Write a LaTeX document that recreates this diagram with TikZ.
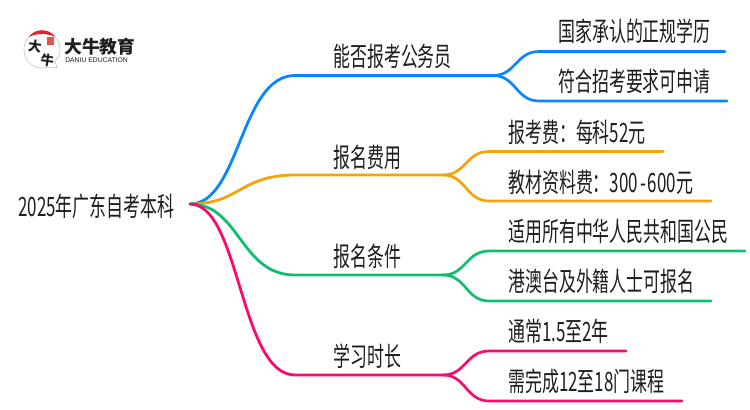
\documentclass[tikz,border=0pt]{standalone}
\usepackage{fontspec}
\setmainfont{Noto Sans CJK SC}
\setsansfont{Liberation Sans}
\newfontfamily\cnnarrow[FakeStretch=0.635]{Noto Sans CJK SC}
\definecolor{cblue}{HTML}{0A84FF}
\definecolor{corange}{HTML}{F5A30A}
\definecolor{cgreen}{HTML}{0FBF6F}
\definecolor{cpink}{HTML}{FA0A6E}
\definecolor{cink}{HTML}{1E1E1E}
\definecolor{cred}{HTML}{D92B2B}
\tikzset{
 px/.style={x=0.75pt,y=-0.75pt},
 lab/.style={inner sep=0pt,anchor=west,text=cink,font=\cnnarrow\fontsize{20pt}{22pt}\selectfont},
 leaf/.style={lab},
 branch/.style={line width=2.1pt,line cap=round},
 twig/.style={line width=2pt,line cap=round},
 seal/.style={inner sep=0pt,text=cink,font=\bfseries\fontsize{10pt}{11pt}\selectfont},
}
\begin{document}
\begin{tikzpicture}[px]
\useasboundingbox (0,0) rectangle (750,410);
\fill[white] (0,0) rectangle (750,410);
% logo
\draw[gray!45,line width=.5pt,fill=white] (57,68) .. controls (52,66) and (47,68) .. (42,68) .. controls (32,68) and (24,60) .. (24,49.5) .. controls (24,39) and (32,31) .. (42,31) .. controls (52,31) and (60,39) .. (60,49.5) .. controls (60,54) and (58,58) .. (55,61) -- cycle;
\fill[cred] (29,37) .. controls (34,28) and (50,28) .. (55,37) .. controls (47,33) and (37,33) .. (29,37) -- cycle;
\fill[cred!80] (47,37) rectangle (54,45);
\node[seal,rotate=-8] (lg1) at (35,46) {大};
\node[seal,rotate=-8] (lg2) at (47.5,60) {牛};
\node[inner sep=0pt,anchor=west,text=cink,font=\bfseries\fontsize{13.3pt}{14pt}\selectfont] (lg3) at (64,47) {大牛教育};
\node[inner sep=0pt,anchor=west,text=cink,font=\sffamily\fontsize{5.1pt}{6pt}\selectfont] (lg4) at (65,60.5) {DANIU EDUCATION};
% text
\node[lab] (root) at (18,206) {2025年广东自考本科};
\coordinate (hub) at (190,204);
\node[lab] (a) at (333,56) {能否报考公务员};
\node[lab] (b) at (333,157) {报名费用};
\node[lab] (c) at (333,256) {报名条件};
\node[lab] (d) at (333,356) {学习时长};
\node[leaf] (a1) at (558,31) {国家承认的正规学历};
\node[leaf] (a2) at (558,81) {符合招考要求可申请};
\node[leaf] (b1) at (508,132) {报考费：每科52元};
\node[leaf] (b2) at (508,182) {教材资料费：300\kern1.5pt-\kern1.5pt600元};
\node[leaf] (c1) at (508,231) {适用所有中华人民共和国公民};
\node[leaf] (c2) at (508,281) {港澳台及外籍人士可报名};
\node[leaf] (d1) at (508,331) {通常1.5至2年};
\node[leaf] (d2) at (508,381) {需完成12至18门课程};
% junctions and ends
\coordinate (ja) at (493,75.5);
\coordinate (jb) at (443,175);
\coordinate (jc) at (443,275);
\coordinate (jd) at (443,375);
\coordinate (as) at (295,75.5);
\coordinate (bs) at (295,175);
\coordinate (cs) at (295,275);
\coordinate (ds) at (295,375);
\coordinate (a1s) at (539,51.5);\coordinate (a1e) at (725,51.5);
\coordinate (a2s) at (539,101);\coordinate (a2e) at (727,101);
\coordinate (b1s) at (489,151.5);\coordinate (b1e) at (663,151.5);
\coordinate (b2s) at (489,201);\coordinate (b2e) at (711,201);
\coordinate (c1s) at (489,251);\coordinate (c1e) at (745,251);
\coordinate (c2s) at (489,301);\coordinate (c2e) at (711,301);
\coordinate (d1s) at (489,351);\coordinate (d1e) at (626,351);
\coordinate (d2s) at (489,401);\coordinate (d2e) at (682,401);
% connectors
\draw[branch,cblue] (hub) .. controls (240,204) and (240,75.5) .. (as) -- (ja);
\draw[twig,cblue] (ja) .. controls (516,75.5) and (516,51.5) .. (a1s) -- (a1e);
\draw[twig,cblue] (ja) .. controls (516,75.5) and (516,101) .. (a2s) -- (a2e);
\draw[branch,corange] (hub) .. controls (240,204) and (240,175) .. (bs) -- (jb);
\draw[twig,corange] (jb) .. controls (466,175) and (466,151.5) .. (b1s) -- (b1e);
\draw[twig,corange] (jb) .. controls (466,175) and (466,201) .. (b2s) -- (b2e);
\draw[branch,cgreen] (hub) .. controls (240,204) and (240,275) .. (cs) -- (jc);
\draw[twig,cgreen] (jc) .. controls (466,275) and (466,251) .. (c1s) -- (c1e);
\draw[twig,cgreen] (jc) .. controls (466,275) and (466,301) .. (c2s) -- (c2e);
\draw[branch,cpink] (hub) .. controls (240,204) and (240,375) .. (ds) -- (jd);
\draw[twig,cpink] (jd) .. controls (466,375) and (466,351) .. (d1s) -- (d1e);
\draw[twig,cpink] (jd) .. controls (466,375) and (466,401) .. (d2s) -- (d2e);
\end{tikzpicture}
\end{document}
